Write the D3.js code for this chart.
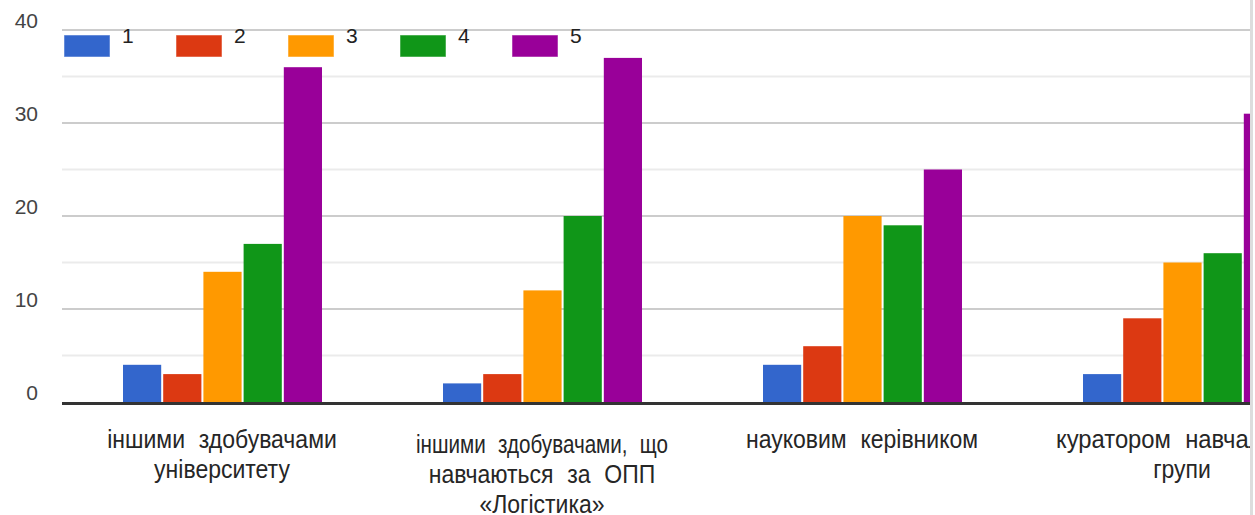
<!DOCTYPE html>
<html><head><meta charset="utf-8">
<script src="https://cdn.jsdelivr.net/npm/d3@7"></script>
<style>
body{margin:0;background:#fff;overflow:hidden}
svg{display:block}
text{font-family:"Liberation Sans",Arial,sans-serif}
</style></head>
<body><svg id="c" width="1255" height="515"></svg>
<script>
// ---- data ----
const categories = ["іншими здобувачами університету", "іншими здобувачами, що навчаються за ОПП «Логістика»", "науковим керівником", "куратором навчальної групи"];
const categoryLines = [["іншими здобувачами", "університету"], ["іншими здобувачами, що", "навчаються за ОПП", "«Логістика»"], ["науковим керівником"], ["куратором навчальної", "групи"]];
const seriesNames = ["1", "2", "3", "4", "5"];
const series1 = [4, 2, 4, 3];
const series2 = [3, 3, 6, 9];
const series3 = [14, 12, 20, 15];
const series4 = [17, 20, 19, 16];
const series5 = [36, 37, 25, 31];
const yTickLabels = [0, 10, 20, 30, 40];
const yMinorTicks = [5, 15, 25, 35];
const colors = ["#3366cc", "#dc3912", "#ff9900", "#109618", "#990099"];

const allSeries = [series1, series2, series3, series4, series5];

const svg = d3.select("#c");
const left = 62, clipRight = 1250;
const x0 = d3.scaleBand().domain(categories).range([left, left + 320 * 4]).padding(0);
const x1 = d3.scaleBand().domain(seriesNames).range([61, 260]).paddingInner(0.05).paddingOuter(0);
const y = d3.scaleLinear().domain([0, 40]).range([402, 30]);

svg.append("defs").append("clipPath").attr("id", "clip")
  .append("rect").attr("x", 0).attr("y", 0).attr("width", clipRight).attr("height", 515);

const g = svg.append("g").attr("clip-path", "url(#clip)");

// gridlines
g.selectAll(".minor").data(yMinorTicks).join("line")
  .attr("x1", left).attr("x2", clipRight)
  .attr("y1", d => y(d)).attr("y2", d => y(d))
  .attr("stroke", "#ebebeb").attr("stroke-width", 2);
g.selectAll(".major").data(yTickLabels.filter(d => d > 0)).join("line")
  .attr("x1", left).attr("x2", clipRight)
  .attr("y1", d => y(d)).attr("y2", d => y(d))
  .attr("stroke", "#cccccc").attr("stroke-width", 2);

// y labels
svg.selectAll(".yl").data(yTickLabels).join("text")
  .attr("x", 38).attr("y", d => y(d) - 2)
  .attr("text-anchor", "end").attr("font-size", 21).attr("fill", "#444")
  .text(d => d);

// bars
const groups = g.selectAll(".grp").data(categories).join("g")
  .attr("transform", d => `translate(${x0(d)},0)`);
groups.each(function(cat, ci) {
  d3.select(this).selectAll("rect").data(seriesNames.map((s, si) => ({s, si, v: allSeries[si][ci]})))
    .join("rect")
    .attr("x", d => x1(d.s))
    .attr("width", x1.bandwidth())
    .attr("y", d => y(d.v))
    .attr("height", d => y(0) - y(d.v))
    .attr("fill", d => colors[d.si]);
});

// baseline
g.append("line").attr("x1", left).attr("x2", clipRight)
  .attr("y1", y(0) + 1.5).attr("y2", y(0) + 1.5)
  .attr("stroke", "#333").attr("stroke-width", 3);

// category labels
const sx = 0.92, maxW = 252;
categories.forEach((cat, ci) => {
  const lines = categoryLines[ci];
  const y0 = lines.length === 3 ? 453 : 448;
  const cx = x0(cat) + x0.bandwidth() / 2;
  const tg = g.append("g").attr("transform", `translate(${cx},0) scale(${sx},1)`);
  lines.forEach((ln, i) => {
    const t = tg.append("text").attr("text-anchor", "middle").attr("font-size", 25).attr("fill", "#262626")
      .attr("word-spacing", 8).attr("x", 0).attr("y", y0 + i * 30).text(ln);
    const w = t.node().getComputedTextLength() * sx;
    if (w > 238) t.attr("textLength", maxW / sx).attr("lengthAdjust", "spacingAndGlyphs");
  });
});

// legend
const leg = svg.selectAll(".leg").data(seriesNames).join("g")
  .attr("transform", (d, i) => `translate(${64 + i * 112},35)`);
leg.append("rect").attr("width", 46).attr("height", 22).attr("fill", (d, i) => colors[i])
  .attr("stroke", "#fff").attr("stroke-opacity", 0.5).attr("stroke-width", 1);
leg.append("text").attr("x", 58).attr("y", 8).attr("font-size", 21).attr("fill", "#222").text(d => d);

// right edge line
svg.append("line").attr("x1", 1251.5).attr("x2", 1251.5).attr("y1", 0).attr("y2", 515)
  .attr("stroke", "#dddddd").attr("stroke-width", 3);
</script></body></html>
